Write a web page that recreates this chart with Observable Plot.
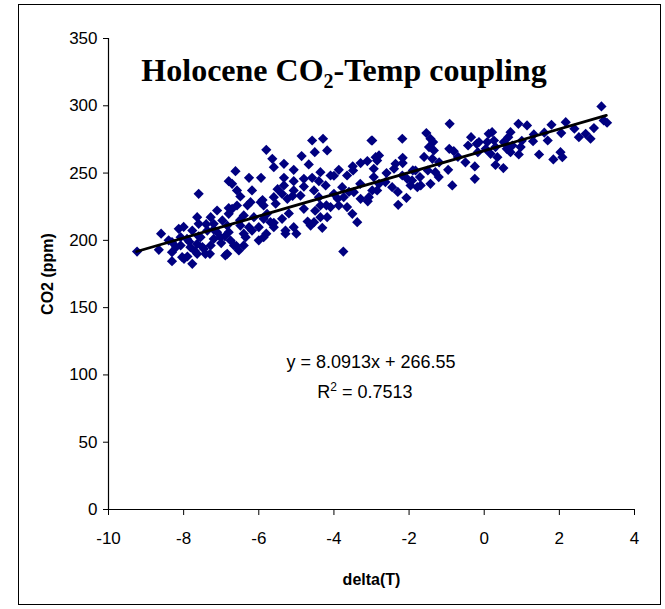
<!DOCTYPE html>
<html><head><meta charset="utf-8">
<script src="https://cdn.jsdelivr.net/npm/d3@7"></script>
<script src="https://cdn.jsdelivr.net/npm/@observablehq/plot@0.6"></script>
<style>
body{margin:0;background:#fff;}
#wrap{position:relative;width:665px;height:609px;}
#frame{position:absolute;left:18px;top:4px;width:643px;height:601px;border:1px solid #000;box-sizing:border-box;pointer-events:none}
</style></head><body><div id="wrap"><div id="frame"></div></div>
<script>
// delta(T) values
const deltaT = [
-9.24,-4.58,-4.29,-3.00,-5.80,-4.51,-4.18,-4.86,-5.64,-5.60,-5.33,-4.67,-5.07,-6.62,-6.26,-5.94,-5.33,-4.36,-3.87,-3.65,
-3.49,-3.29,-3.11,-2.89,-4.80,-4.58,-4.09,-6.80,-6.71,-5.33,-5.07,-4.22,-3.78,-7.60,-6.58,-6.49,-6.18,-5.60,-5.38,-5.07,
-4.89,-4.53,-4.40,-4.00,-3.74,-3.47,-3.29,-3.07,-2.85,-6.22,-5.95,-5.87,-6.58,-5.55,-5.24,-4.80,-4.36,-4.09,-3.87,-3.65,
-7.11,-6.80,-6.71,-6.40,-6.13,-5.78,-5.38,-5.69,-5.87,-4.53,-4.62,-4.36,-4.18,-3.51,-3.38,-7.64,-7.60,-7.28,-7.20,-6.97,
-6.84,-6.49,-6.26,-6.00,-5.60,-5.29,-5.07,-4.31,-8.13,-7.77,-7.37,-7.11,-6.80,-6.18,-5.87,-5.29,-8.08,-7.91,-7.55,-7.20,
-7.02,-6.75,-6.35,-8.31,-8.08,-7.82,-7.64,-7.46,-7.28,-6.66,-6.40,-8.66,-8.31,-8.04,-7.64,-7.42,-6.84,-6.53,-8.31,-7.99,
-7.77,-6.89,-3.75,
3.12,3.18,3.27,2.92,2.70,2.83,2.52,2.17,2.05,1.79,1.69,1.46,1.84,2.08,2.03,1.32,1.30,1.14,0.91,0.70,
0.64,0.52,0.75,0.92,0.70,0.51,0.35,0.26,0.12,0.21,0.08,0.17,0.04,-0.14,-0.20,-0.35,-0.43,-0.17,-0.25,-0.25,
-0.92,-0.93,-0.81,-0.96,-0.85,-1.21,-1.30,-1.43,-1.54,-1.43,-1.36,-1.47,-1.34,-1.38,-1.50,-1.71,-1.69,-1.78,-1.96,-2.07,
-2.29,-2.18,-2.17,-2.17,-2.36,-2.40,-2.18,-2.05,-2.45,-2.63,-2.80,-2.85,-2.98,-2.94,-2.94,-2.98,-2.80,-1.92,-1.83,0.97,0.30,
-7.9,-7.7,-7.5,-7.3,-7.0,-6.9,-7.2,-7.6,-8.2,-8.4,-7.85,-6.6,-6.4,-6.0,-5.8,-5.6,-5.2,-5.0,-4.7,-4.5,
-4.2,-3.9,-3.6,-3.3,-3.1,-2.6,-2.3,-1.9,-1.6,-1.2,-0.7,-0.5,0.3,0.6,1.0,1.6,2.4,-6.8,-6.3,-5.9,
-5.5,-5.1,-4.8,-4.4,-4.0,-3.5,-7.4,-8.6,-8.0,-6.5
];
// CO2 (ppm) values
const co2 = [
191.7,274.2,275.5,274.2,267.3,265.5,266.8,262.6,260.6,254.4,256.9,256.4,252.4,251.4,246.5,246.5,246.5,250.7,252.4,248.2,
251.9,257.4,258.9,261.8,245.7,246.5,248.2,244.0,242.0,240.8,244.0,240.8,239.5,234.6,237.1,232.6,237.1,232.1,234.6,237.1,
233.3,237.1,232.1,234.6,232.1,235.8,230.9,232.1,237.1,228.4,228.4,225.9,225.9,227.2,230.9,223.4,225.9,224.7,225.9,224.7,
222.2,219.7,223.4,218.5,217.2,219.7,216.0,213.5,216.0,213.5,211.0,217.2,217.2,219.7,213.5,217.2,212.3,217.2,212.3,214.8,
211.0,211.0,209.8,209.8,209.8,207.3,209.8,209.3,208.6,207.3,207.3,206.1,206.1,207.3,202.4,204.9,202.4,201.1,202.4,201.1,
202.4,199.9,202.4,198.7,196.2,194.9,197.4,193.7,196.2,196.2,196.2,193.0,191.2,187.5,190.0,190.0,190.0,192.5,184.5,186.3,
182.6,188.8,191.7,
299.5,289.1,287.4,283.4,279.2,275.5,276.7,287.8,279.7,285.9,274.2,263.8,260.1,261.8,265.5,278.7,273.7,285.4,286.6,280.4,
276.7,273.0,270.5,263.8,265.5,253.7,261.8,274.2,279.2,280.4,273.0,264.3,268.0,273.0,271.7,276.7,270.5,265.5,254.9,245.7,
286.6,268.0,266.3,252.4,240.8,247.0,250.7,242.0,279.7,275.5,273.0,269.3,266.8,260.6,251.9,247.0,240.8,239.5,240.8,231.6,
226.4,275.5,261.3,257.4,256.9,253.2,248.2,245.7,239.5,243.3,263.1,259.3,274.2,253.2,247.0,237.1,242.0,244.5,251.9,269.3,269.3,
188,192,195,190,198,203,208,203,195,200,199,196,205,200,205,213,220,205,214,222,
226,231,236,242,229,250,236,252,262,258,262,258,256,268,274,280,283,224,226,230,
238,233,240,244,248,255,212,205,210,215
];
const xTicks = [-10, -8, -6, -4, -2, 0, 2, 4];
const yTicks = [0, 50, 100, 150, 200, 250, 300, 350];
const trendSlope = 8.0913;
const trendIntercept = 266.55;
const trendXRange = [-9.25, 3.25];
const rSquared = 0.7513;

const points = deltaT.map((d, i) => ({deltaT: d, co2: co2[i]}));
const trend = trendXRange.map(x => ({x, y: trendSlope * x + trendIntercept}));
const fmt = d => (d < 0 ? "-" + Math.abs(d) : String(d));

const chart = Plot.plot({
  width: 665, height: 609,
  marginLeft: 108, marginRight: 31, marginTop: 38, marginBottom: 100,
  style: {fontFamily: "'Liberation Sans', Arial, sans-serif", fontSize: "17px", color: "#000", background: "transparent"},
  x: {domain: [-10, 4]},
  y: {domain: [0, 350]},
  marks: [
    Plot.axisX({ticks: xTicks, tickSize: 6, tickPadding: 16, label: null, tickFormat: fmt, fontSize: 17}),
    Plot.axisY({ticks: yTicks, tickSize: 5, tickPadding: 6, label: null, tickFormat: fmt, fontSize: 17}),
    Plot.ruleX([-10], {stroke: "#000", strokeWidth: 1.2}),
    Plot.ruleY([0], {stroke: "#000", strokeWidth: 1.2}),
    Plot.dot(points, {x: "deltaT", y: "co2", symbol: "diamond2", r: 4.6, fill: "#000080", stroke: "none"}),
    Plot.line(trend, {x: "x", y: "y", stroke: "#000", strokeWidth: 2.8}),
    Plot.text(["delta(T)"], {text: d => d, frameAnchor: "bottom", lineAnchor: "middle", dy: 70, fontWeight: "bold", fontSize: 16}),
    Plot.text(["CO2 (ppm)"], {text: d => d, frameAnchor: "left", lineAnchor: "middle", textAnchor: "middle", dx: -61, rotate: -90, fontWeight: "bold", fontSize: 16})
  ]
});
document.getElementById("wrap").appendChild(chart);

const svg = d3.select(chart);
const title = svg.append("text")
  .attr("x", 344).attr("y", 81)
  .attr("text-anchor", "middle")
  .attr("font-family", "'Liberation Serif', 'Times New Roman', serif")
  .attr("font-weight", "bold").attr("font-size", 32).attr("fill", "#000");
title.append("tspan").text("Holocene CO");
title.append("tspan").attr("font-size", 20).attr("dy", 7).text("2");
title.append("tspan").attr("dy", -7).text("-Temp coupling");

const eq = svg.append("g")
  .attr("font-family", "'Liberation Sans', Arial, sans-serif")
  .attr("fill", "#000").attr("text-anchor", "middle");
eq.append("text").attr("x", 371).attr("y", 368).attr("font-size", 18)
  .text(`y = ${trendSlope}x + ${trendIntercept}`);
const r2 = eq.append("text").attr("x", 365).attr("y", 398).attr("font-size", 18);
r2.append("tspan").text("R");
r2.append("tspan").attr("font-size", 12).attr("dy", -7).text("2");
r2.append("tspan").attr("dy", 7).text(` = ${rSquared}`);
</script>
</body></html>
